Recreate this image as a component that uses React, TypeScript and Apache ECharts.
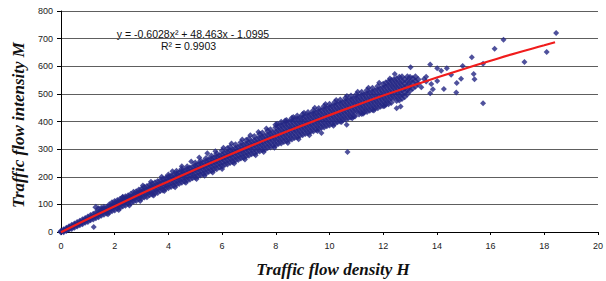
import React, { useEffect, useRef } from "react";
import * as echarts from "echarts";

type Col = [number, number[]];

// x ticks / y ticks
const xTicks = { min: 0, max: 20, interval: 2 };
const yTicks = { min: 0, max: 800, interval: 100 };

// Dense band of observations, grouped by density column: [H, [M values]]
const bandA: Col[] = [
  [0.0, [0, 3]], [0.1, [1, 5, 8]], [0.2, [5, 9, 14]], [0.3, [10, 15, 19]], [0.4, [13, 18, 24]],
  [0.5, [17, 24, 29]], [0.6, [22, 27, 34]], [0.7, [26, 33, 39]], [0.8, [30, 36, 44]],
  [0.9, [35, 43, 49]], [1.0, [38, 46, 54]], [1.1, [44, 52, 60]], [1.2, [47, 55, 64]],
  [1.3, [52, 60, 70, 90]], [1.4, [55, 64, 73, 84]], [1.5, [61, 69, 78]], [1.6, [64, 73, 83, 90]],
  [1.7, [69, 78, 88]], [1.8, [72, 82, 92, 99]], [1.9, [77, 87, 97]], [2.0, [80, 91, 101, 110]],
  [2.1, [86, 96, 106, 114]], [2.2, [89, 100, 110, 119]], [2.3, [94, 105, 115, 124]],
  [2.4, [97, 109, 119, 128]], [2.5, [103, 113, 124, 131]], [2.6, [106, 118, 128, 137]],
  [2.7, [111, 122, 133]], [2.8, [114, 126, 137, 146]], [2.9, [120, 131, 142, 152]],
];

const bandB: Col[] = [
  [3.0, [122, 134, 145, 156]], [3.1, [127, 139, 150, 162]], [3.2, [128, 141, 153, 165]],
  [3.3, [135, 146, 158, 170]], [3.4, [137, 149, 162, 174]], [3.5, [141, 154, 166, 178]],
  [3.6, [143, 157, 170, 183]], [3.7, [150, 162, 174, 186]], [3.8, [152, 165, 178, 191]],
  [3.9, [158, 170, 183, 195]], [4.0, [160, 173, 186, 199, 206]], [4.1, [165, 178, 190, 203]],
  [4.2, [168, 181, 194, 207]], [4.3, [173, 186, 199, 211, 220]], [4.4, [176, 189, 202, 215]],
  [4.5, [180, 193, 206, 220, 228]], [4.6, [184, 197, 210, 223]], [4.7, [188, 201, 214, 227, 236]],
  [4.8, [191, 205, 218, 232]], [4.9, [196, 209, 222, 235]], [5.0, [198, 212, 226, 240, 250]],
  [5.1, [203, 217, 230, 244]], [5.2, [206, 220, 234, 248, 257]], [5.3, [211, 225, 238, 252]],
  [5.4, [214, 228, 242, 256, 266]], [5.5, [219, 233, 247, 261]], [5.6, [222, 236, 250, 264, 275]],
  [5.7, [227, 241, 255, 269]], [5.8, [229, 244, 258, 272, 283]], [5.9, [235, 249, 263, 277]],
];

const bandC: Col[] = [
  [6.0, [238, 252, 266, 280, 294]], [6.1, [244, 258, 272, 286]], [6.2, [246, 261, 275, 290, 302]],
  [6.3, [252, 266, 280, 294, 308]], [6.4, [254, 269, 284, 298]], [6.5, [260, 274, 289, 303, 316]],
  [6.6, [262, 277, 292, 306]], [6.7, [268, 282, 297, 311, 324]], [6.8, [270, 285, 300, 315]],
  [6.9, [275, 290, 304, 319, 332]], [7.0, [278, 293, 308, 323, 338]], [7.1, [283, 298, 313, 327]],
  [7.2, [285, 301, 316, 331, 346]], [7.3, [291, 306, 321, 336]], [7.4, [293, 309, 324, 340, 354]],
  [7.5, [298, 313, 328, 343, 358]], [7.6, [300, 316, 332, 347]], [7.7, [306, 321, 336, 352, 366]],
  [7.8, [308, 324, 340, 355, 370]], [7.9, [313, 329, 344, 359]],
  [8.0, [315, 331, 347, 363, 378, 388]], [8.1, [320, 336, 351, 367, 382]],
  [8.2, [322, 338, 354, 370, 386, 397]], [8.3, [328, 343, 359, 375, 390]],
  [8.4, [330, 346, 362, 378, 394, 404]], [8.5, [335, 351, 367, 382, 398]],
  [8.6, [337, 353, 369, 385, 402, 412]], [8.7, [342, 358, 374, 390, 406]],
  [8.8, [344, 361, 377, 393, 409, 420]], [8.9, [349, 365, 381, 397, 413]],
];

const bandD: Col[] = [
  [9.0, [352, 368, 384, 399, 414, 425]], [9.1, [357, 372, 387, 403, 418]],
  [9.2, [359, 375, 391, 406, 422, 433]], [9.3, [364, 379, 394, 410, 425]],
  [9.4, [366, 382, 398, 414, 429, 440]], [9.5, [371, 386, 402, 417, 432]],
  [9.6, [373, 389, 405, 421, 436, 447]], [9.7, [378, 393, 409, 424, 440]],
  [9.8, [380, 396, 412, 428, 444, 455]], [9.9, [385, 400, 416, 431, 447]],
  [10.0, [387, 403, 419, 435, 451, 462]], [10.1, [392, 407, 423, 439, 455]],
  [10.2, [394, 410, 426, 442, 458, 470]], [10.3, [399, 414, 430, 446, 462]],
  [10.4, [401, 417, 433, 449, 466, 478]], [10.5, [406, 421, 437, 453, 469]],
  [10.6, [408, 424, 440, 457, 473, 485]], [10.7, [413, 428, 444, 460, 476]],
  [10.8, [415, 431, 447, 464, 480, 492]], [10.9, [420, 435, 451, 467, 483]],
  [11.0, [438, 454, 470, 486, 498]], [11.1, [427, 442, 458, 474, 490]],
  [11.2, [429, 445, 461, 477, 494, 506]], [11.3, [434, 449, 465, 481, 497]],
  [11.4, [436, 452, 468, 484, 501, 513]], [11.5, [441, 456, 472, 488, 504]],
  [11.6, [443, 459, 475, 491, 508, 520]], [11.7, [448, 463, 479, 495, 511]],
  [11.8, [450, 466, 482, 498, 515, 528]], [11.9, [455, 470, 486, 502, 518]],
  [12.0, [457, 473, 489, 505, 522, 535]], [12.1, [462, 477, 493, 509, 525, 540]],
  [12.2, [464, 480, 496, 512, 529, 545]], [12.3, [469, 484, 500, 516, 532, 548]],
  [12.4, [487, 503, 520, 536, 552]], [12.5, [476, 491, 507, 523, 539, 555]],
  [12.6, [478, 494, 510, 527, 543, 560]], [12.7, [483, 498, 514, 530, 546, 562]],
  [12.8, [490, 505, 520, 536, 552]], [12.9, [500, 515, 530, 546, 562]],
  [13.0, [512, 528, 544, 560]], [13.1, [520, 540, 556]], [13.2, [528, 546, 562]],
  [13.3, [536, 552]],
];

// Ragged points along the upper and lower edges of the band
const upperEdge: [number, number][] = [
  [1.5, 88], [1.9, 108], [2.3, 128], [2.7, 146], [3.05, 168], [3.35, 182], [3.75, 200],
  [4.15, 220], [4.5, 238], [4.85, 255], [5.15, 270], [5.45, 285], [5.75, 292], [6.05, 305],
  [6.35, 320], [6.75, 335], [7.05, 350], [7.35, 362], [7.65, 375], [8.05, 392], [8.35, 404],
  [8.65, 416], [9.05, 432], [9.45, 450], [9.85, 463], [10.25, 478], [10.65, 492],
  [11.05, 508], [11.45, 522], [11.85, 540], [12.25, 556],
];
const lowerEdge: [number, number][] = [
  [1.75, 64], [2.15, 80], [2.55, 96], [2.95, 112], [3.45, 132], [3.85, 148], [4.25, 162],
  [4.65, 178], [5.05, 192], [5.35, 204], [5.65, 215], [6.0, 228], [6.45, 248], [6.85, 262],
  [7.25, 278], [7.55, 290], [7.95, 305], [8.45, 322], [8.85, 336], [9.25, 350], [9.55, 366],
  [10.15, 385], [10.45, 398], [10.85, 412], [11.25, 428], [11.65, 440], [12.05, 456],
];

// Sparse observations away from the band
const sparse: [number, number][] = [
  [1.22, 18], [9.7, 358], [10.64, 388], [10.95, 418], [10.67, 290], [12.43, 572], [12.5, 448],
  [12.65, 454], [13.02, 596], [13.42, 524], [13.52, 554], [13.6, 545], [13.6, 562],
  [13.75, 502], [13.75, 606], [13.79, 536], [13.85, 517], [14.01, 593], [14.01, 547],
  [14.16, 584], [14.26, 518], [14.37, 593], [14.53, 569], [14.72, 505], [14.74, 539],
  [14.9, 555], [14.96, 601], [15.3, 633], [15.37, 572], [15.4, 553], [15.72, 466],
  [15.72, 609], [16.15, 663], [16.48, 696], [17.26, 615], [18.09, 652], [18.44, 720],
];

// Polynomial trend line as drawn (y = -0.6028x² + 48.463x - 1.0995)
const trend: [number, number][] = [
  [0, -1], [1, 47], [2, 93], [3, 139], [4, 183], [5, 226], [6, 268], [7, 309], [8, 348],
  [9, 386], [10, 423], [11, 459], [12, 494], [13, 527], [14, 559], [15, 590], [16, 620],
  [17, 649], [18, 676], [18.4, 687],
];

const equationText = "y = -0.6028x² + 48.463x - 1.0995";
const r2Text = "R² = 0.9903";
const xName = "Traffic flow density H";
const yName = "Traffic flow intensity M";

const toPoints = (cols: Col[]) => cols.flatMap(([x, ys]) => ys.map((y) => [x, y]));

export default function App() {
  const ref = useRef<HTMLDivElement>(null);
  useEffect(() => {
    if (!ref.current) return;
    const chart = echarts.init(ref.current, null, { renderer: "svg" });
    const bandPoints = [
      ...toPoints(bandA),
      ...toPoints(bandB),
      ...toPoints(bandC),
      ...toPoints(bandD),
    ];
    const loosePoints = [...upperEdge, ...lowerEdge, ...sparse];
    const markColor = "#232683";
    const labelFont = { fontFamily: "Liberation Sans, Arial, sans-serif", fontSize: 9, color: "#222" };
    const nameStyle = {
      fontFamily: "Liberation Serif, Times New Roman, serif",
      fontWeight: "bold",
      fontStyle: "italic",
      fontSize: 17,
      fill: "#111",
    };
    const centered = {
      align: "center",
      verticalAlign: "middle",
      textAlign: "center",
      textVerticalAlign: "middle",
    };
    chart.setOption({
      animation: false,
      backgroundColor: "#ffffff",
      grid: { left: 61, right: 4, top: 11, bottom: 49 },
      xAxis: {
        type: "value",
        ...xTicks,
        axisLine: { show: true, onZero: false, lineStyle: { color: "#000", width: 1 } },
        axisTick: { show: true, length: 3, lineStyle: { color: "#000" } },
        axisLabel: { ...labelFont, margin: 9 },
        splitLine: { show: false },
      },
      yAxis: {
        type: "value",
        ...yTicks,
        axisLine: { show: true, lineStyle: { color: "#000", width: 1 } },
        axisTick: { show: true, length: 4, lineStyle: { color: "#000" } },
        axisLabel: { ...labelFont, margin: 8 },
        splitLine: { show: true, lineStyle: { color: "#5e5e5e", width: 1 } },
      },
      series: [
        {
          type: "scatter",
          data: bandPoints,
          symbol: "diamond",
          symbolSize: 7,
          itemStyle: { color: markColor },
          z: 2,
        },
        {
          type: "scatter",
          data: loosePoints,
          symbol: "diamond",
          symbolSize: 6,
          itemStyle: { color: markColor },
          z: 2,
        },
        {
          type: "line",
          data: trend,
          smooth: true,
          symbol: "none",
          showSymbol: false,
          lineStyle: { color: "#f01c1c", width: 2.2 },
          z: 3,
        },
      ],
      graphic: [
        {
          type: "text",
          x: 193,
          y: 34,
          style: {
            text: equationText,
            fontFamily: "Liberation Sans, Arial, sans-serif",
            fontSize: 10.5,
            fill: "#111",
            ...centered,
          },
        },
        {
          type: "text",
          x: 188.5,
          y: 46,
          style: {
            text: r2Text,
            fontFamily: "Liberation Sans, Arial, sans-serif",
            fontSize: 10.5,
            fill: "#111",
            ...centered,
          },
        },
        {
          type: "text",
          x: 333,
          y: 269,
          style: { text: xName, ...nameStyle, ...centered },
        },
        {
          type: "text",
          x: 18,
          y: 125,
          rotation: Math.PI / 2,
          style: { text: yName, ...nameStyle, ...centered },
        },
      ],
    });
    return () => chart.dispose();
  }, []);
  return (
    <div
      ref={ref}
      style={{ position: "fixed", left: 0, top: 0, width: 606, height: 281, background: "#fff" }}
    />
  );
}
